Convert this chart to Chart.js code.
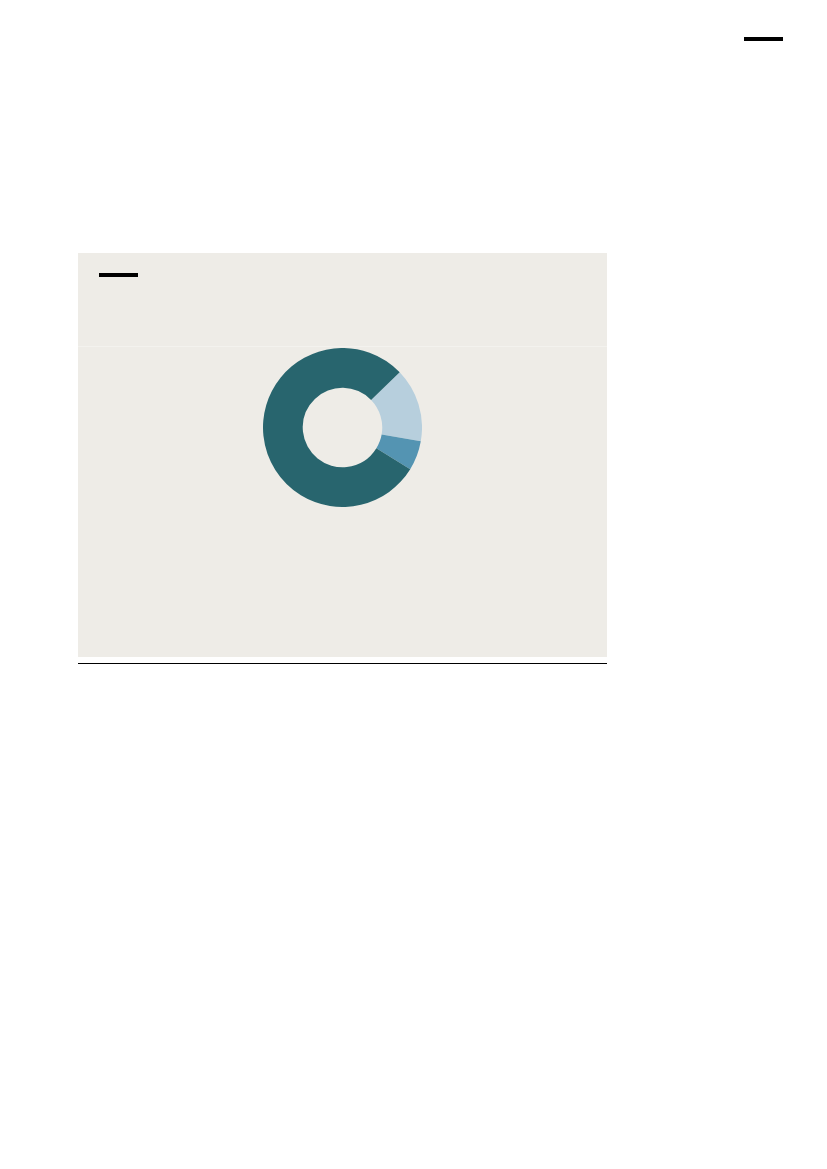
<!DOCTYPE html>
<html>
<head>
<meta charset="utf-8">
<script src="https://cdn.jsdelivr.net/npm/chart.js"></script>
<style>
  html, body { margin: 0; padding: 0; background: #ffffff; }
  body { width: 827px; height: 1169px; position: relative; overflow: hidden; font-family: "Noto Sans", sans-serif; }
  .rule { position: absolute; background: #000; }
  #panel { position: absolute; left: 78px; top: 253px; width: 529px; height: 404px; background: #eeece7; }
  #sep { position: absolute; left: 78px; top: 346px; width: 529px; height: 1px; background: #f3f2ee; }
  #chartBox { position: absolute; left: 263px; top: 348px; width: 159px; height: 159px; }
</style>
</head>
<body>
<div class="rule" style="left:744px; top:37px; width:39px; height:4px;"></div>
<div id="panel"></div>
<div id="sep"></div>
<div class="rule" style="left:99px; top:273px; width:39px; height:4px;"></div>
<div id="chartBox"><canvas id="donut"></canvas></div>
<div class="rule" style="left:78px; top:663px; width:529px; height:1px;"></div>

<script>
// donut data (shares in percent)
var labels = ["Segment A", "Segment B", "Segment C"];
var shares = [15, 6, 79];
var colors = ["#b7cfdd", "#5494b2", "#28656e"];

var ctx = document.getElementById("donut");
var myChart = new Chart(ctx, {
    type: 'doughnut',
    data: {
        labels: labels,
        datasets: [{
            data: shares,
            backgroundColor: colors,
            borderWidth: 0
        }]
    },
    options: {
        responsive: true,
        maintainAspectRatio: false,
        animation: false,
        cutout: '50%',
        rotation: 46,
        layout: { padding: 0 },
        plugins: {
            legend: { display: false },
            tooltip: { enabled: false }
        }
    }
});
</script>
</body>
</html>
